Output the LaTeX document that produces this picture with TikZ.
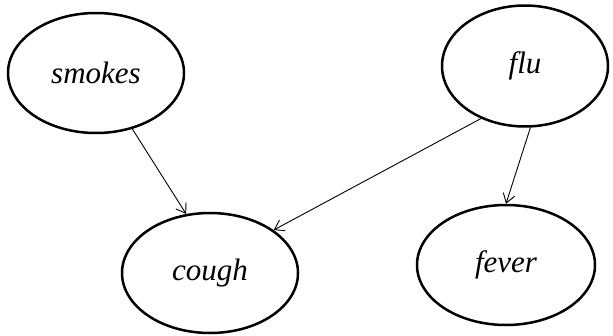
\documentclass[tikz,border=0pt]{standalone}
\usepackage{fontspec}
\setmainfont{Liberation Serif}
\usetikzlibrary{shapes.geometric,arrows.meta}
\begin{document}
\begin{tikzpicture}[x=1pt,y=-1pt,
  var/.style={ellipse,draw,line width=2.5pt,inner sep=0pt,
    font=\fontsize{31}{37}\selectfont\itshape},
  edge/.style={line width=0.9pt,-{Straight Barb[length=9pt,width=12pt,line width=0.9pt]}}]
  \useasboundingbox (0,0) rectangle (613,335);
  \node[var,minimum width=176pt,minimum height=120pt] (smokes) at (96,73) {smokes};
  \node[var,minimum width=166pt,minimum height=121pt] (flu) at (525,66) {flu};
  \node[var,minimum width=176pt,minimum height=120pt] (cough) at (210,273) {cough};
  \node[var,minimum width=178pt,minimum height=120pt] (fever) at (506,265) {fever};
  \draw[edge] (smokes.-57) -- (cough.112);
  \draw[edge] (flu.230) -- (cough.34);
  \draw[edge] (flu.-85) -- (fever.90);
\end{tikzpicture}
\end{document}
